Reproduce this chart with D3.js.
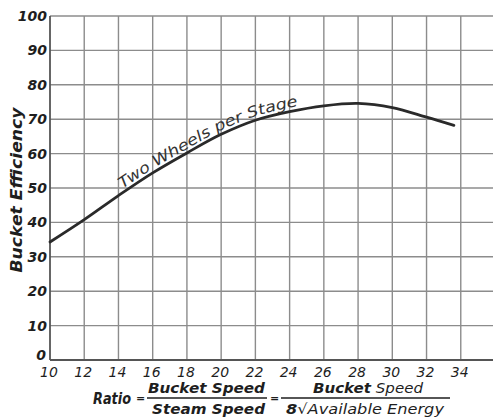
<!DOCTYPE html>
<html>
<head>
<meta charset="utf-8">
<script src="https://cdn.jsdelivr.net/npm/d3@7"></script>
<style>
  html, body { margin: 0; padding: 0; background: #fff; }
  svg { display: block; }
</style>
</head>
<body>
<svg id="chart" width="493" height="419" font-family="'DejaVu Sans', 'Liberation Sans', sans-serif" font-style="oblique"></svg>
<script>
// ---- data ----
const ratioValues = [10, 12, 14, 16, 18, 20, 22, 24, 26, 28, 30, 32, 33.6];
const efficiencyValues = [34.3, 40.8, 47.8, 54.4, 60.2, 65.6, 69.7, 72.2, 73.9, 74.6, 73.4, 70.6, 68.2];
const xTickValues = [10, 12, 14, 16, 18, 20, 22, 24, 26, 28, 30, 32, 34];
const yTickValues = [0, 10, 20, 30, 40, 50, 60, 70, 80, 90, 100];
const xGridValues = [10, 12, 14, 16, 18, 20, 22, 24, 26, 28, 30, 32, 34, 36];
const curveLabel = "Two Wheels per Stage";
const yTitle = "Bucket Efficiency";

const ink = "#1e1e1e";
const svg = d3.select("#chart");
const x = d3.scaleLinear().domain([10, 36]).range([50, 495]);
const y = d3.scaleLinear().domain([0, 100]).range([360, 16]);

// grid
const grid = svg.append("g");
grid.selectAll("line.v").data(xGridValues.slice(1)).join("line")
  .attr("x1", d => x(d)).attr("x2", d => x(d))
  .attr("y1", y(100)).attr("y2", y(0))
  .attr("stroke", "#8c8c8c").attr("stroke-width", 1.4);
grid.selectAll("line.h").data(yTickValues.slice(1)).join("line")
  .attr("x1", x(10)).attr("x2", 493)
  .attr("y1", d => y(d)).attr("y2", d => y(d))
  .attr("stroke", "#8c8c8c").attr("stroke-width", 1.4);

// axes lines
svg.append("line").attr("x1", x(10)).attr("x2", x(10)).attr("y1", y(100)).attr("y2", y(0))
  .attr("stroke", "#555").attr("stroke-width", 1.8);
svg.append("line").attr("x1", x(10)).attr("x2", 493).attr("y1", y(0)).attr("y2", y(0))
  .attr("stroke", "#555").attr("stroke-width", 1.8);

// y tick labels
svg.append("g").selectAll("text").data(yTickValues).join("text")
  .attr("x", d => d === 0 ? 46 : 47)
  .attr("y", d => y(d) + (d === 0 ? 0 : 5))
  .attr("text-anchor", "end")
  .attr("font-size", 14).attr("font-weight", "bold").attr("fill", ink)
  .text(d => d);

// x tick labels
svg.append("g").selectAll("text").data(xTickValues).join("text")
  .attr("x", d => x(d) - 1)
  .attr("y", 377)
  .attr("text-anchor", "middle")
  .attr("font-size", 14).attr("fill", ink)
  .text(d => d);

// curve
const line = d3.line().x((d, i) => x(ratioValues[i])).y(d => y(d)).curve(d3.curveCatmullRom.alpha(0.5));
svg.append("path").datum(efficiencyValues)
  .attr("d", line)
  .attr("fill", "none").attr("stroke", "#2a2a2a").attr("stroke-width", 2.8)
  .attr("stroke-linecap", "round");

// label path (offset above curve)
const labelLine = d3.line().x((d, i) => x(ratioValues[i])).y(d => y(d) - 4).curve(d3.curveCatmullRom.alpha(0.5));
const lp = svg.append("path").datum(efficiencyValues)
  .attr("id", "labelPath").attr("d", labelLine)
  .attr("fill", "none").attr("stroke", "none");
const node = lp.node();
let off = 0;
const total = node.getTotalLength();
for (let l = 0; l < total; l += 0.5) { if (node.getPointAtLength(l).x >= 122) { off = l; break; } }
svg.append("text")
  .attr("font-size", 15).attr("fill", "#333")
  .append("textPath")
  .attr("href", "#labelPath")
  .attr("startOffset", off)
  .attr("textLength", 196)
  .attr("lengthAdjust", "spacingAndGlyphs")
  .text(curveLabel);

// y title
svg.append("text")
  .attr("transform", "translate(22,190) rotate(-90)")
  .attr("text-anchor", "middle")
  .attr("font-size", 16).attr("font-weight", "bold").attr("fill", ink)
  .attr("textLength", 165).attr("lengthAdjust", "spacingAndGlyphs")
  .text(yTitle);

// x title (formula)
const xt = svg.append("g").attr("fill", ink);
xt.append("text").attr("x", 93).attr("y", 404).attr("font-size", 15).attr("font-weight", "bold")
  .attr("textLength", 38).attr("lengthAdjust", "spacingAndGlyphs").text("Ratio");
xt.append("text").attr("x", 140.5).attr("y", 402).attr("text-anchor", "middle").attr("font-size", 11).attr("font-weight", "bold").text("=");
xt.append("text").attr("x", 148).attr("y", 393).attr("font-size", 14).attr("font-weight", "bold")
  .attr("textLength", 117).attr("lengthAdjust", "spacingAndGlyphs").text("Bucket Speed");
xt.append("line").attr("x1", 147).attr("x2", 267).attr("y1", 398).attr("y2", 398).attr("stroke", ink).attr("stroke-width", 1.6);
xt.append("text").attr("x", 152).attr("y", 414).attr("font-size", 14).attr("font-weight", "bold")
  .attr("textLength", 113).attr("lengthAdjust", "spacingAndGlyphs").text("Steam Speed");
xt.append("text").attr("x", 274.5).attr("y", 402).attr("text-anchor", "middle").attr("font-size", 11).attr("font-weight", "bold").text("=");
xt.append("text").attr("x", 313).attr("y", 393).attr("font-size", 14)
  .attr("textLength", 110).attr("lengthAdjust", "spacingAndGlyphs")
  .html('<tspan font-weight="bold">Bucket</tspan> Speed');
xt.append("line").attr("x1", 281).attr("x2", 450).attr("y1", 398).attr("y2", 398).attr("stroke", ink).attr("stroke-width", 1.4);
xt.append("text").attr("x", 286).attr("y", 414).attr("font-size", 14)
  .attr("textLength", 158).attr("lengthAdjust", "spacingAndGlyphs")
  .html('<tspan font-weight="bold">8</tspan>√Available Energy');
</script>
</body>
</html>
